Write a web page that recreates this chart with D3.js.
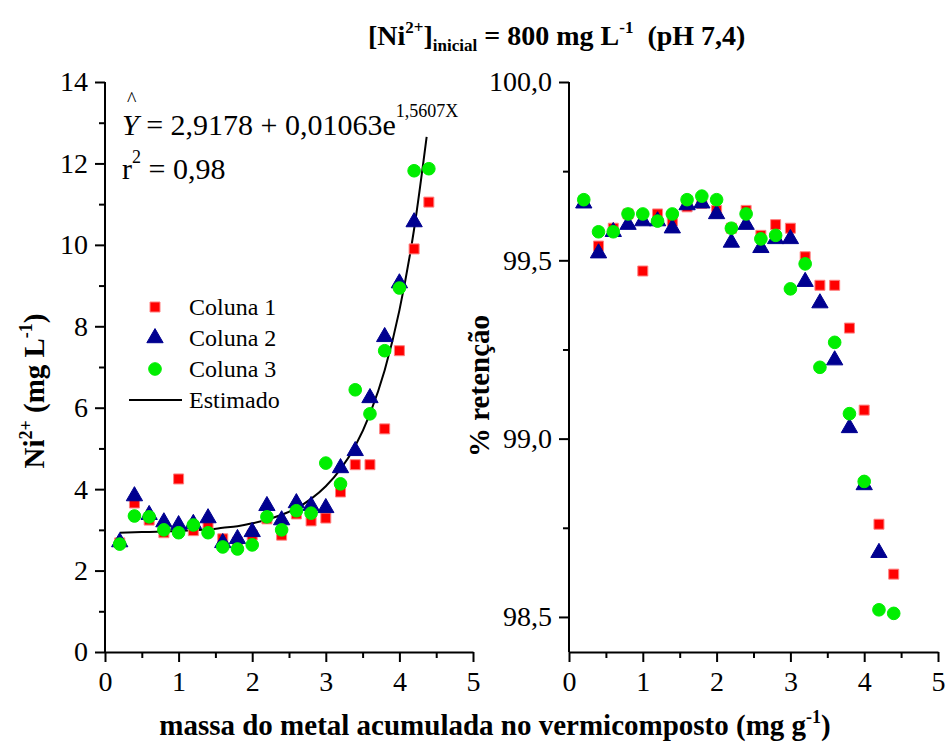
<!DOCTYPE html>
<html lang="pt">
<head>
  <meta charset="UTF-8">
  <script src="https://cdn.jsdelivr.net/npm/d3@7"></script>
  <title>Ni retencao</title>
  <style>
    body { margin: 0; background: #fff; }
    text { font-family: "Liberation Serif", "Times New Roman", serif; fill: #000; white-space: pre; }
    .axis path, .axis line { stroke: #000; stroke-width: 2; }
    .axis text { font-size: 28px; }
  </style>
</head>
<body>
  <svg id="chart" width="946" height="745"></svg>
  <script>
    /*------------------- data ------------------------*/
    // massa do metal acumulada (mg g-1)
    const massa = [0.2, 0.4, 0.6, 0.8, 1.0, 1.2, 1.4, 1.6, 1.8, 2.0, 2.2,
      2.4, 2.6, 2.8, 3.0, 3.2, 3.4, 3.6, 3.8, 4.0, 4.2, 4.4];

    // Ni2+ no efluente (mg L-1)
    const coluna1Ni = [2.68, 3.66, 3.24, 2.93, 4.25, 2.98, 3.07, 2.78, 2.70, 2.87, 3.27,
      2.87, 3.39, 3.22, 3.29, 3.93, 4.60, 4.60, 5.48, 7.40, 9.90, 11.05];
    const coluna2Ni = [2.70, 3.83, 3.37, 3.19, 3.12, 3.15, 3.29, 2.68, 2.78, 2.95, 3.59,
      3.24, 3.66, 3.59, 3.54, 4.52, 4.94, 6.24, 7.74, 9.06, 10.56];
    const coluna3Ni = [2.65, 3.34, 3.32, 3.00, 2.93, 3.12, 2.93, 2.58, 2.53, 2.63, 3.32,
      3.00, 3.47, 3.41, 4.64, 4.13, 6.44, 5.85, 7.40, 8.94, 11.82, 11.87];

    // curva estimada
    const estimadoX = [0.2, 0.4, 0.6, 0.8, 1.0, 1.2, 1.4, 1.6, 1.8, 2.0, 2.2,
      2.4, 2.6, 2.8, 3.0, 3.2, 3.4, 3.6, 3.8, 4.0, 4.2, 4.37];
    const estimadoNi = [2.93, 2.94, 2.95, 2.96, 2.97, 2.99, 3.01, 3.05, 3.09, 3.16, 3.25,
      3.37, 3.53, 3.76, 4.07, 4.49, 5.06, 5.85, 6.92, 8.39, 10.39, 12.65];

    // % retencao
    const coluna1Ret = [99.665, 99.54, 99.59, 99.63, 99.47, 99.63, 99.61, 99.65, 99.66, 99.64, 99.59,
      99.64, 99.57, 99.60, 99.59, 99.51, 99.43, 99.43, 99.31, 99.08, 98.76, 98.62];
    const coluna2Ret = [99.66, 99.52, 99.58, 99.60, 99.61, 99.61, 99.59, 99.655, 99.66, 99.63, 99.55,
      99.60, 99.535, 99.56, 99.56, 99.44, 99.38, 99.22, 99.03, 98.87, 98.68];
    const coluna3Ret = [99.67, 99.58, 99.58, 99.63, 99.63, 99.61, 99.63, 99.67, 99.68, 99.67, 99.59,
      99.63, 99.56, 99.57, 99.42, 99.49, 99.20, 99.27, 99.07, 98.88, 98.52, 98.51];

    const xTicks = [0, 1, 2, 3, 4, 5];
    const niTicks = [0, 2, 4, 6, 8, 10, 12, 14];
    const retTicks = [98.5, 99.0, 99.5, 100.0];
    const legendNames = ["Coluna 1", "Coluna 2", "Coluna 3", "Estimado"];

    /*------------------- setup ------------------------*/
    const svg = d3.select("#chart");
    const fmt = d3.format(".1f");
    const comma = v => fmt(v).replace(".", ",");

    const plotTop = 82, plotBottom = 652;

    const xLeft = d3.scaleLinear().domain([0, 5]).range([105, 473]);
    const yLeft = d3.scaleLinear().domain([0, 14]).range([plotBottom, plotTop]);
    const xRight = d3.scaleLinear().domain([0, 5]).range([569, 938]);
    const yRight = d3.scaleLinear().domain([98.4017, 100]).range([plotBottom, plotTop]);

    const sq = d3.symbol().type(d3.symbolSquare).size(100);
    const tri = d3.symbol().type(d3.symbolTriangle).size(115);
    const circ = d3.symbol().type(d3.symbolCircle).size(125);

    const styles = [
      { sym: sq, fill: "#ff0000", stroke: "#ff8080" },
      { sym: tri, fill: "#000090", stroke: "#000090" },
      { sym: circ, fill: "#00ee00", stroke: "#00ee00" }
    ];

    // axes with minor ticks
    const drawAxes = (x, y, yMajor, yMinor, yFmt) => {
      const gx = svg.append("g").attr("class", "axis")
        .attr("transform", `translate(0,${plotBottom})`);
      gx.call(d3.axisBottom(x).tickValues(xTicks).tickSize(10).tickPadding(9).tickSizeOuter(0)
        .tickFormat(d3.format("d")));
      gx.append("g").call(d3.axisBottom(x).tickValues(d3.range(0.5, 5, 1)).tickSize(6).tickFormat(""))
        .select(".domain").remove();

      const gy = svg.append("g").attr("class", "axis")
        .attr("transform", `translate(${x.range()[0]},0)`);
      gy.call(d3.axisLeft(y).tickValues(yMajor).tickSize(10).tickPadding(7).tickSizeOuter(0)
        .tickFormat(yFmt));
      gy.append("g").call(d3.axisLeft(y).tickValues(yMinor).tickSize(6).tickFormat(""))
        .select(".domain").remove();
      gy.select(".domain").attr("d", `M0,${plotBottom}V${plotTop}`);
    };

    drawAxes(xLeft, yLeft, niTicks, d3.range(1, 14, 2), d3.format("d"));
    drawAxes(xRight, yRight, retTicks, [98.75, 99.25, 99.75], comma);

    // estimated curve
    const line = d3.line().x(d => xLeft(d[0])).y(d => yLeft(d[1])).curve(d3.curveMonotoneX);
    svg.append("path")
      .attr("d", line(estimadoX.map((v, i) => [v, estimadoNi[i]])))
      .attr("fill", "none").attr("stroke", "#000").attr("stroke-width", 2);

    const drawPoints = (x, y, values, st) => {
      svg.append("g").selectAll("path")
        .data(values)
        .join("path")
        .attr("d", st.sym)
        .attr("transform", (d, i) => `translate(${x(massa[i])},${y(d)})`)
        .attr("fill", st.fill).attr("stroke", st.stroke).attr("stroke-width", 1);
    };

    [coluna1Ni, coluna2Ni, coluna3Ni].forEach((s, i) => drawPoints(xLeft, yLeft, s, styles[i]));
    [coluna1Ret, coluna2Ret, coluna3Ret].forEach((s, i) => drawPoints(xRight, yRight, s, styles[i]));

    /*------------------- legend ------------------------*/
    const legend = svg.append("g").attr("transform", "translate(155,307)");
    legendNames.forEach((name, i) => {
      const g = legend.append("g").attr("transform", `translate(0,${i * 31})`);
      if (i < 3) {
        g.append("path").attr("d", styles[i].sym)
          .attr("fill", styles[i].fill).attr("stroke", styles[i].stroke);
      } else {
        g.append("line").attr("x1", -26).attr("x2", 27).attr("stroke", "#000").attr("stroke-width", 2);
      }
      g.append("text").attr("x", 34).attr("y", 8).style("font-size", "24px").text(name);
    });

    /*------------------- texts ------------------------*/
    const eq = svg.append("text").attr("x", 122).attr("y", 135).style("font-size", "30px");
    eq.append("tspan").style("font-style", "italic").text("Y");
    eq.append("tspan").text(" = 2,9178 + 0,01063e");
    eq.append("tspan").attr("dy", -18).style("font-size", "18px").text("1,5607X");
    svg.append("text").attr("x", 127).attr("y", 106).style("font-size", "20px").text("^");

    const r2 = svg.append("text").attr("x", 122).attr("y", 179).style("font-size", "30px");
    r2.append("tspan").text("r");
    r2.append("tspan").attr("dy", -16).style("font-size", "18px").text("2");
    r2.append("tspan").attr("dy", 16).text(" = 0,98");

    const title = svg.append("text").attr("x", 368).attr("y", 45)
      .style("font-size", "28px").style("font-weight", "bold");
    title.append("tspan").text("[Ni");
    title.append("tspan").attr("dy", -12).style("font-size", "17px").text("2+");
    title.append("tspan").attr("dy", 12).text("]");
    title.append("tspan").attr("dy", 6).style("font-size", "17px").text("inicial");
    title.append("tspan").attr("dy", -6).text(" = 800 mg L");
    title.append("tspan").attr("dy", -12).style("font-size", "17px").text("-1");
    title.append("tspan").attr("dy", 12).text("  (pH 7,4)");

    const xt = svg.append("text").attr("x", 495).attr("y", 735).attr("text-anchor", "middle")
      .style("font-size", "29px").style("font-weight", "bold");
    xt.append("tspan").text("massa do metal acumulada no vermicomposto (mg g");
    xt.append("tspan").attr("dy", -12).style("font-size", "18px").text("-1");
    xt.append("tspan").attr("dy", 12).text(")");

    const yt = svg.append("text").attr("transform", "translate(44,391) rotate(-90)")
      .attr("text-anchor", "middle").style("font-size", "29px").style("font-weight", "bold");
    yt.append("tspan").text("Ni");
    yt.append("tspan").attr("dy", -12).style("font-size", "18px").text("2+");
    yt.append("tspan").attr("dy", 12).text(" (mg L");
    yt.append("tspan").attr("dy", -12).style("font-size", "18px").text("-1");
    yt.append("tspan").attr("dy", 12).text(")");

    svg.append("text").attr("transform", "translate(489,386) rotate(-90)")
      .attr("text-anchor", "middle").style("font-size", "29px").style("font-weight", "bold")
      .text("% retenção");
  </script>
</body>
</html>
